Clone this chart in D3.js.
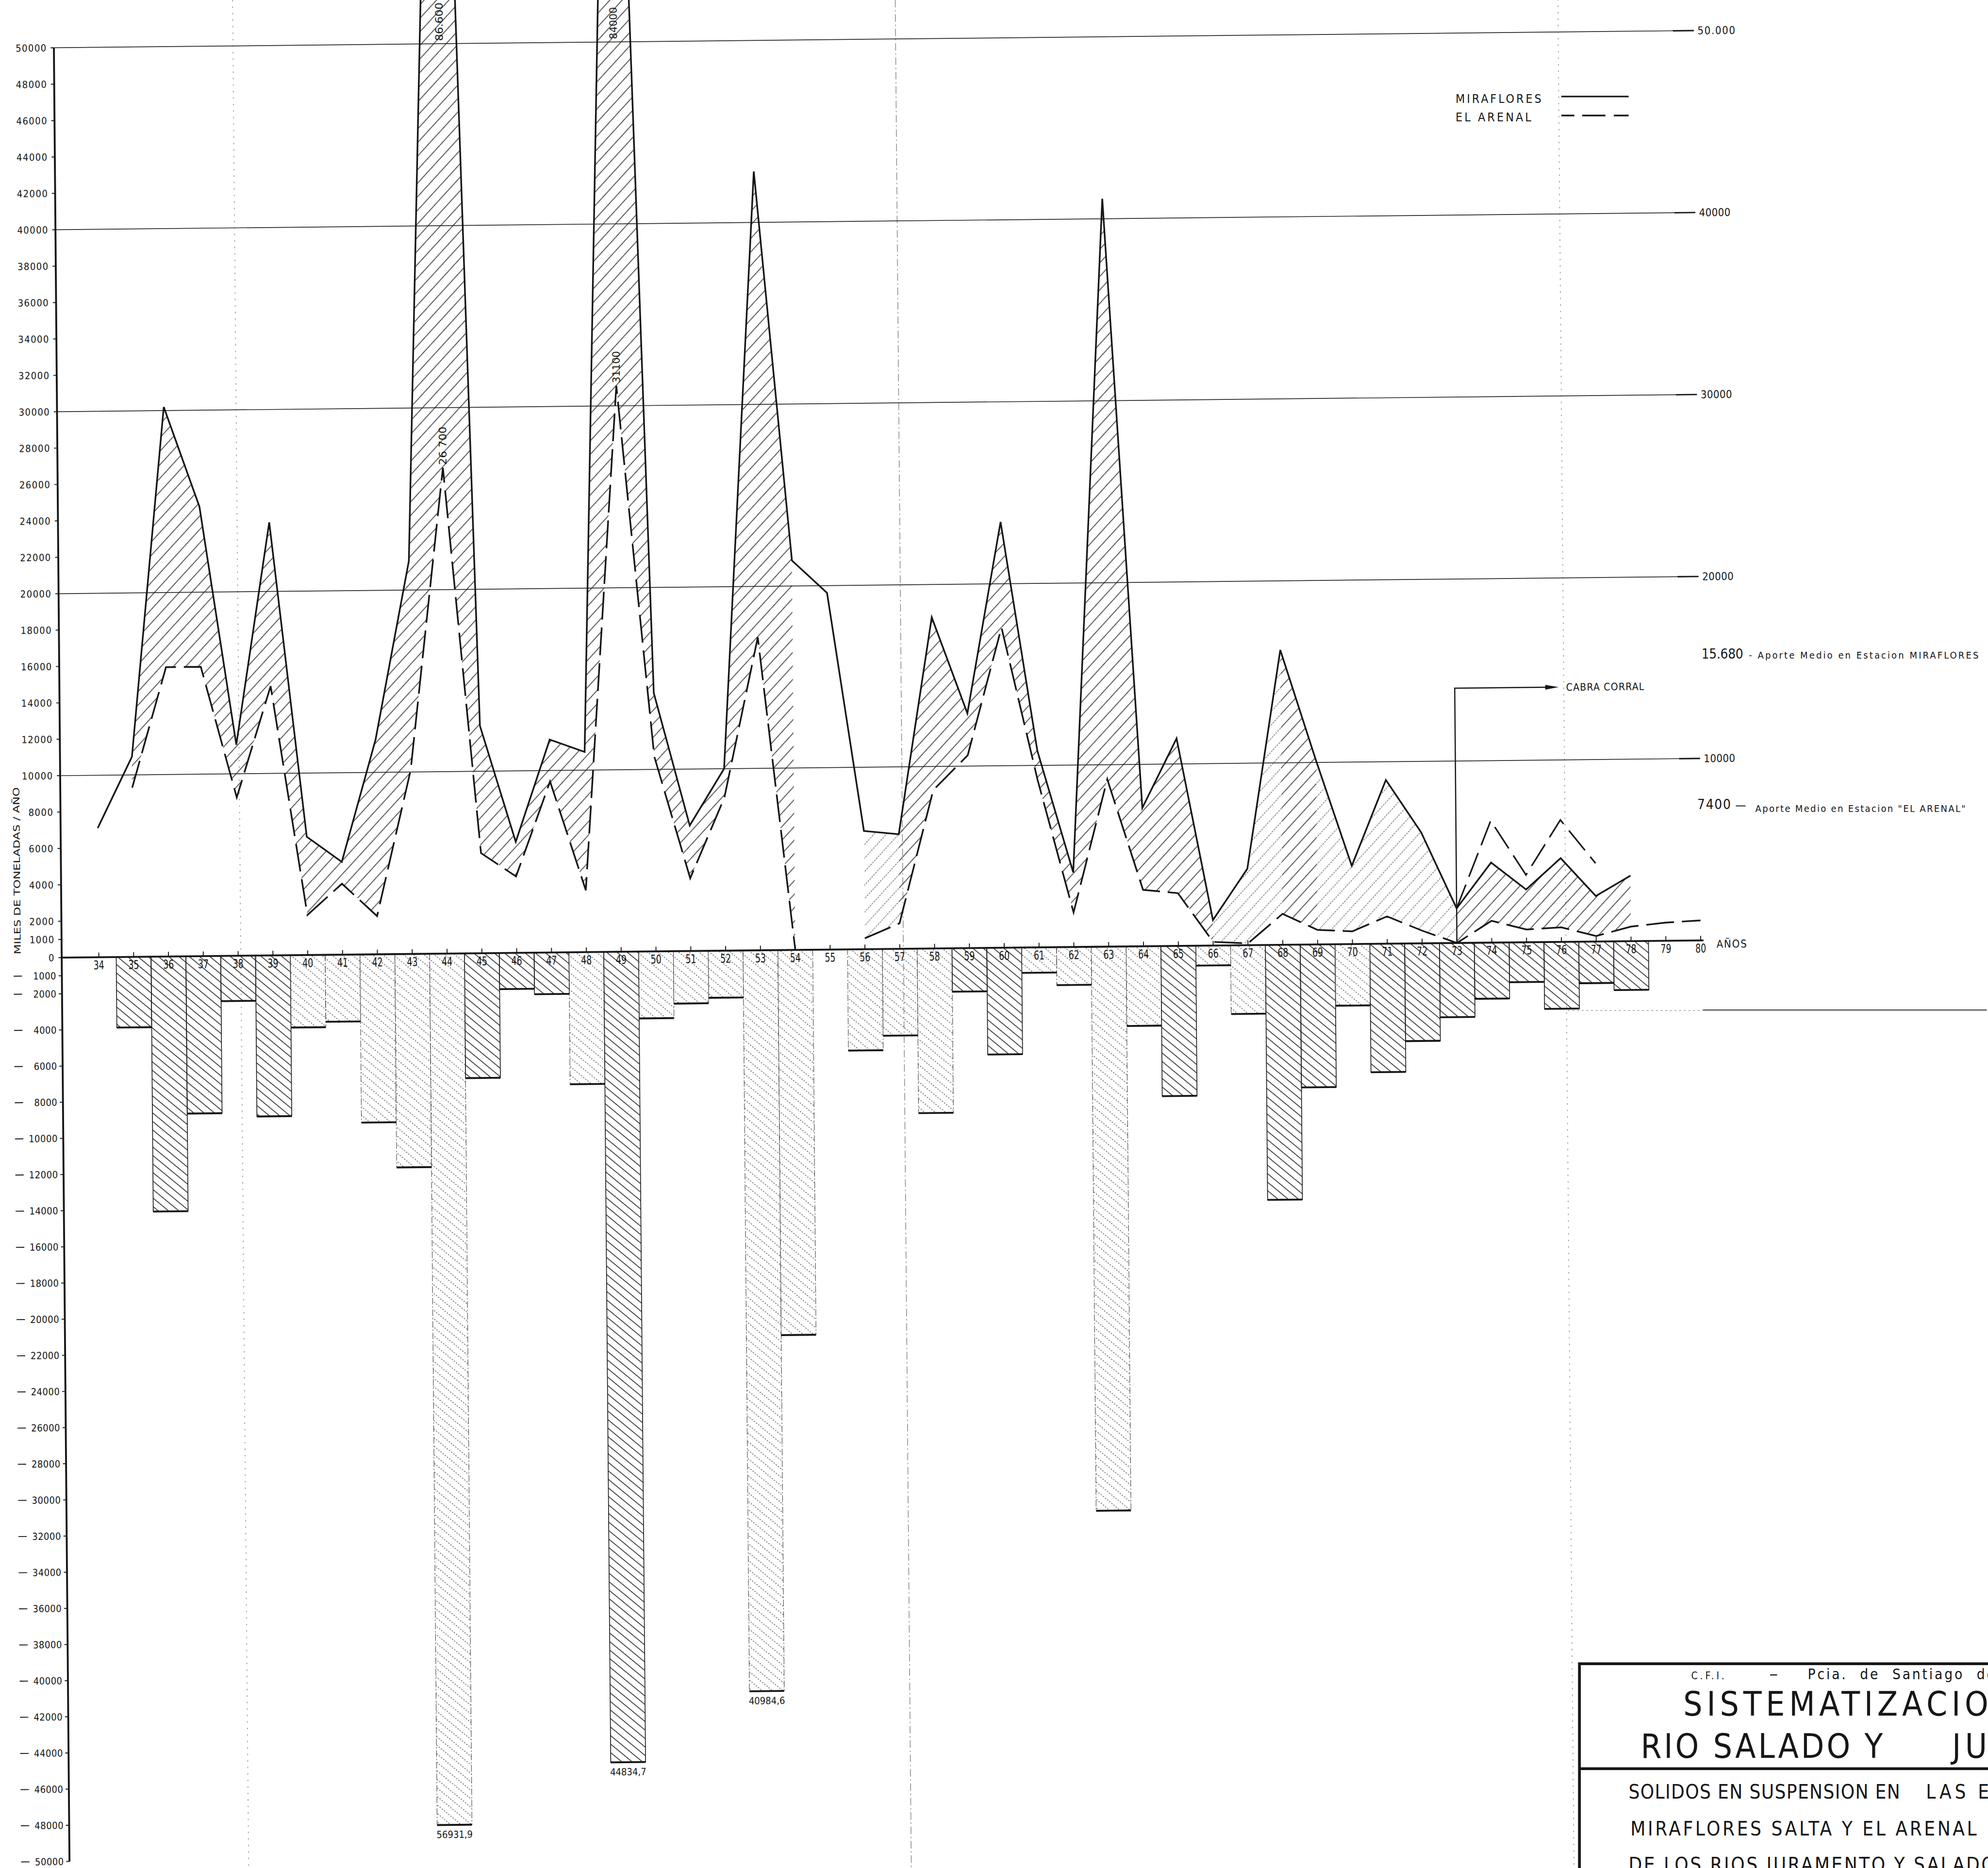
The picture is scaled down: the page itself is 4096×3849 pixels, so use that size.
<!DOCTYPE html>
<html>
<head>
<meta charset="utf-8">
<script src="https://cdn.jsdelivr.net/npm/d3@7"></script>
<style>
  html, body { margin: 0; padding: 0; background: #fff; }
  svg { display: block; }
  text { font-family: "Liberation Sans Narrow", "DejaVu Sans Condensed", "Liberation Sans", sans-serif; fill: #161616; }
</style>
</head>
<body>
<svg id="chart" width="4096" height="3849"></svg>
<script>
// ---- Data: suspended solids, thousands of tonnes per year (1934-1980) ----
const years = [34,35,36,37,38,39,40,41,42,43,44,45,46,47,48,49,50,51,52,53,54,55,56,57,
               58,59,60,61,62,63,64,65,66,67,68,69,70,71,72,73,74,75,76,77,78,79,80];

// Estación Miraflores (solid line)
const miraflores = [7100,11000,30200,24700,11600,23800,6500,5100,11800,21600,86600,12500,6100,11700,
                    11000,84000,14200,6900,10000,42800,21400,19600,6500,6300,18200,12900,23400,10800,
                    4100,41100,7600,11400,1400,4200,16200,10100,4300,9000,6100,1900,4400,2900,4600,
                    2500,3600,null,null];

// Estación El Arenal (dashed line)
const elArenal = [null,9300,15900,15900,8700,14800,2200,3900,2100,10100,26700,5500,4200,9400,
                  3400,31100,10700,4000,8400,17200,0,null,600,1400,8700,10600,17600,9200,
                  1900,9200,3100,2900,200,100,1700,800,700,1500,700,0,1200,700,800,
                  300,800,1000,1100];

// Second dashed trace after Cabra Corral (1973-1977)
const arenalHighYears = [73,74,75,76,77];
const arenalHigh = [1900,6700,3700,6700,4300];

// Yearly balance between both stations (bars below zero)
const balance = [null,-3900,-14100,-8700,-2500,-8900,-4000,-3700,-9300,-11800,-56931.9,-6900,-2000,
                 -2300,-7300,-44834.7,-3700,-2900,-2600,-40984.6,-21300,null,-5600,-4800,-9100,
                 -2400,-5900,-1400,-2100,-31200,-4400,-8300,-1100,-3800,-14100,-7900,-3400,-7100,
                 -5400,-4100,-3100,-2200,-3700,-2300,-2700,null,null];
const labelledBars = [44,49,53];

// Written values on the two big peaks of each series
const mirafloresPeakLabels = [[44,"86.600"],[49,"84000"]];
const arenalPeakLabels = [[44,"26 700"],[49,"31100"]];

// Axis ticks
const posTicks = [0,1000,2000,4000,6000,8000,10000,12000,14000,16000,18000,20000,22000,24000,
                  26000,28000,30000,32000,34000,36000,38000,40000,42000,44000,46000,48000,50000];
const negTicks = [-1000,-2000,-4000,-6000,-8000,-10000,-12000,-14000,-16000,-18000,-20000,-22000,
                  -24000,-26000,-28000,-30000,-32000,-34000,-36000,-38000,-40000,-42000,-44000,
                  -46000,-48000,-50000];
const gridValues = [10000,20000,30000,40000,50000];
const gridLabels = ["10000","20000","30000","40000","50.000"];

// Mean yearly contributions
const meanMiraflores = "15.680";
const meanArenal = "7400";

// ---- Layout (drawn at sheet size, then scaled to the window) ----
const W = 4282, H = 4024, K = 0.956;
const ORIGIN = [133, 2064];          // axis corner on the sheet
const SKEW_X = 0.0086, SKEW_Y = -0.0105; // the sheet is slightly out of square
const BAR_FLOOR = -48200;            // bars deeper than this are cut at the bottom of the sheet
const LIGHT_BARS = new Set([40,41,42,43,44,48,50,51,52,53,54,56,57,58,61,62,63,64,66,67,70]);
const LIGHT_AREA = new Set([56,66,67,69,70,71,72]);
const INK = "#161616";

const svg = d3.select("#chart");
const defs = svg.append("defs");

function hatch(id, angle, gap, color, width, dash) {
  const p = defs.append("pattern").attr("id", id)
    .attr("patternUnits", "userSpaceOnUse")
    .attr("width", gap).attr("height", 18)
    .attr("patternTransform", `rotate(${angle})`);
  p.append("line").attr("x1", gap / 2).attr("y1", 0).attr("x2", gap / 2).attr("y2", 18)
    .attr("stroke", color).attr("stroke-width", width)
    .attr("stroke-dasharray", dash || null);
}
hatch("barDark", -50, 14.1, "#262626", 1.7);
hatch("barLight", -50, 14.1, "#555", 1.5, "3 3");
hatch("areaDark", 43, 19.7, "#262626", 1.6);
hatch("areaLight", 43, 19.7, "#666", 1.4, "4 2");

const root = svg.append("g").attr("transform", `scale(${K})`);
root.append("rect").attr("width", W).attr("height", H).attr("fill", "#fff");

const plot = root.append("g")
  .attr("transform", `translate(${ORIGIN[0]},${ORIGIN[1]}) matrix(1,${SKEW_Y},${SKEW_X},1,0,0)`);

const x = d3.scaleLinear().domain([34, 80]).range([80, 80 + 46 * 75.05]);
const y = d3.scaleLinear().domain([-50000, 0, 50000]).range([1948, 0, -1961]);
const colW = 75.05;
const xEnd = x(80) + 2;

// paper creases
[[386, "3 11"], [1814, "16 6 3 6"], [3242, "3 11"]].forEach(([fx, dash]) => {
  plot.append("line").attr("x1", fx).attr("x2", fx).attr("y1", -2200).attr("y2", 2100)
    .attr("stroke", "#8a8a8a").attr("stroke-width", 1.6).attr("stroke-dasharray", dash);
});

// horizontal grid with right-hand values
const grid = plot.append("g");
gridValues.forEach((v, i) => {
  grid.append("line").attr("x1", 0).attr("x2", xEnd).attr("y1", y(v)).attr("y2", y(v))
    .attr("stroke", "#2a2a2a").attr("stroke-width", 1.8);
  grid.append("line").attr("x1", xEnd - 45).attr("x2", xEnd).attr("y1", y(v)).attr("y2", y(v))
    .attr("stroke", INK).attr("stroke-width", 3);
  grid.append("text").attr("x", xEnd + 8).attr("y", y(v)).attr("dy", "0.35em")
    .attr("font-size", 23).attr("textLength", gridLabels[i].length * 13.5)
    .text(gridLabels[i]);
});

// hatched band between the two stations
const areaSegs = [];
for (let i = 0; i < years.length - 1; i++) {
  const m0 = miraflores[i], m1 = miraflores[i + 1], a0 = elArenal[i], a1 = elArenal[i + 1];
  if ([m0, m1, a0, a1].some(v => v == null)) continue;
  areaSegs.push({ yr: years[i], pts: [[x(years[i]), y(m0)], [x(years[i + 1]), y(m1)],
                                      [x(years[i + 1]), y(a1)], [x(years[i]), y(a0)]] });
}
plot.append("g").selectAll("path").data(areaSegs).join("path")
  .attr("d", d => "M" + d.pts.join("L") + "Z")
  .attr("fill", d => LIGHT_AREA.has(d.yr) ? "url(#areaLight)" : "url(#areaDark)")
  .attr("stroke", "none");

// balance bars
const bars = years.map((yr, i) => ({ yr, v: balance[i] })).filter(d => d.v != null);
const barG = plot.append("g");
barG.selectAll("rect").data(bars).join("rect")
  .attr("x", d => x(d.yr) - colW / 2).attr("width", colW)
  .attr("y", y(0)).attr("height", d => y(Math.max(d.v, BAR_FLOOR)) - y(0))
  .attr("fill", d => LIGHT_BARS.has(d.yr) ? "url(#barLight)" : "url(#barDark)")
  .attr("stroke", d => LIGHT_BARS.has(d.yr) ? "#555" : "#222")
  .attr("stroke-width", d => LIGHT_BARS.has(d.yr) ? 1.3 : 1.8)
  .attr("stroke-dasharray", d => LIGHT_BARS.has(d.yr) ? "14 4 3 4" : null);
barG.selectAll("line.bottom").data(bars).join("line").attr("class", "bottom")
  .attr("x1", d => x(d.yr) - colW / 2).attr("x2", d => x(d.yr) + colW / 2)
  .attr("y1", d => y(Math.max(d.v, BAR_FLOOR))).attr("y2", d => y(Math.max(d.v, BAR_FLOOR)))
  .attr("stroke", INK).attr("stroke-width", 4);
barG.selectAll("text").data(bars.filter(d => labelledBars.includes(d.yr))).join("text")
  .attr("x", d => x(d.yr)).attr("y", d => y(Math.max(d.v, BAR_FLOOR)) + 28)
  .attr("text-anchor", "middle").attr("font-size", 21)
  .text(d => String(Math.abs(d.v)).replace(".", ","));

// x axis
plot.append("line").attr("x1", 0).attr("x2", x(80) + 6).attr("y1", 0).attr("y2", 0)
  .attr("stroke", INK).attr("stroke-width", 4);
plot.append("g").selectAll("line").data(years).join("line")
  .attr("x1", d => x(d)).attr("x2", d => x(d)).attr("y1", 0).attr("y2", -10)
  .attr("stroke", INK).attr("stroke-width", 2);
plot.append("g").selectAll("text").data(years).join("text")
  .attr("x", d => x(d)).attr("y", 26).attr("text-anchor", "middle")
  .attr("font-size", 26).attr("textLength", 23).attr("lengthAdjust", "spacingAndGlyphs")
  .text(d => d);
plot.append("text").attr("x", x(80) + 34).attr("y", 16).attr("font-size", 23)
  .attr("letter-spacing", 2).text("AÑOS");

// y axis
plot.append("line").attr("x1", 0).attr("x2", 0).attr("y1", y(50000)).attr("y2", y(-50000))
  .attr("stroke", INK).attr("stroke-width", 4);
const yAx = plot.append("g");
yAx.selectAll("line.pt").data(posTicks.concat(negTicks)).join("line").attr("class", "pt")
  .attr("x1", -7).attr("x2", 0).attr("y1", d => y(d)).attr("y2", d => y(d))
  .attr("stroke", INK).attr("stroke-width", 2);
yAx.selectAll("text").data(posTicks.concat(negTicks)).join("text")
  .attr("x", d => d < 0 ? -12 : -15).attr("y", d => y(d)).attr("dy", "0.36em").attr("text-anchor", "end")
  .attr("font-size", 21).attr("letter-spacing", d => d < 0 ? 0.5 : 1.5)
  .text(d => String(Math.abs(d)));
yAx.selectAll("line.minus").data(negTicks).join("line").attr("class", "minus")
  .attr("x1", -104).attr("x2", -86).attr("y1", d => y(d)).attr("y2", d => y(d))
  .attr("stroke", INK).attr("stroke-width", 2);
plot.append("text")
  .attr("transform", `translate(-95,${y(4800)}) rotate(-90)`)
  .attr("text-anchor", "middle").attr("dy", "0.35em")
  .attr("font-size", 19).attr("textLength", 360).attr("lengthAdjust", "spacingAndGlyphs")
  .text("MILES DE TONELADAS / AÑO");

// station lines
const line = d3.line().defined(d => d[1] != null).x(d => x(d[0])).y(d => y(d[1]));
plot.append("path").datum(years.map((yr, i) => [yr, miraflores[i]]))
  .attr("d", line).attr("fill", "none").attr("stroke", INK).attr("stroke-width", 3.6)
  .attr("stroke-linejoin", "miter");
plot.append("path").datum(years.map((yr, i) => [yr, elArenal[i]]))
  .attr("d", line).attr("fill", "none").attr("stroke", INK).attr("stroke-width", 3.6)
  .attr("stroke-dasharray", "60 17");
plot.append("path").datum(arenalHighYears.map((yr, i) => [yr, arenalHigh[i]]))
  .attr("d", line).attr("fill", "none").attr("stroke", INK).attr("stroke-width", 3.3)
  .attr("stroke-dasharray", "55 18");

// written peak values (vertical)
function peakText(list, series) {
  plot.append("g").selectAll("text").data(list).join("text")
    .attr("transform", d => {
      const v = series[years.indexOf(d[0])];
      return `translate(${x(d[0])},${Math.max(y(v), y(50000)) - 6}) rotate(-90)`;
    })
    .attr("dy", "0.35em").attr("font-size", 22)
    .attr("textLength", d => d[1].length * 13.8).attr("lengthAdjust", "spacingAndGlyphs")
    .text(d => d[1]);
}
peakText(mirafloresPeakLabels, miraflores);
peakText(arenalPeakLabels, elArenal);

// Cabra Corral marker
const ccx = x(73), ccy = y(14000);
plot.append("path").attr("d", `M${ccx},0V${ccy}H${ccx + 200}`)
  .attr("fill", "none").attr("stroke", INK).attr("stroke-width", 2.6);
plot.append("path").attr("d", `M${ccx + 195},${ccy - 5}L${ccx + 224},${ccy}L${ccx + 195},${ccy + 5}Z`)
  .attr("fill", INK);
plot.append("text").attr("x", ccx + 240).attr("y", ccy + 8).attr("font-size", 22)
  .attr("textLength", 168).text("CABRA CORRAL");

// ---- sheet annotations ----
// legend
root.append("text").attr("x", 3137).attr("y", 222).attr("font-size", 26)
  .attr("textLength", 185).text("MIRAFLORES");
root.append("line").attr("x1", 3365).attr("x2", 3510).attr("y1", 208).attr("y2", 208)
  .attr("stroke", INK).attr("stroke-width", 3.6);
root.append("text").attr("x", 3137).attr("y", 262).attr("font-size", 26)
  .attr("textLength", 163).text("EL ARENAL");
root.append("line").attr("x1", 3365).attr("x2", 3510).attr("y1", 249).attr("y2", 249)
  .attr("stroke", INK).attr("stroke-width", 3.6).attr("stroke-dasharray", "28 17 50 18 35");

// mean contributions
root.append("text").attr("x", 3667).attr("y", 1419).attr("font-size", 29)
  .attr("textLength", 90).text(meanMiraflores);
root.append("text").attr("x", 3769).attr("y", 1419).attr("font-size", 21)
  .attr("textLength", 495).text("- Aporte Medio en Estacion MIRAFLORES");
root.append("text").attr("x", 3658).attr("y", 1744).attr("font-size", 29)
  .attr("textLength", 72).text(meanArenal);
root.append("line").attr("x1", 3741).attr("x2", 3762).attr("y1", 1737).attr("y2", 1737)
  .attr("stroke", INK).attr("stroke-width", 2);
root.append("text").attr("x", 3783).attr("y", 1750).attr("font-size", 21)
  .attr("textLength", 453).text("Aporte Medio en Estacion \"EL ARENAL\"");

// crease across the right margin
root.append("line").attr("x1", 3379).attr("x2", 3670).attr("y1", 2178).attr("y2", 2178)
  .attr("stroke", "#999").attr("stroke-width", 1.5).attr("stroke-dasharray", "4 6");
root.append("line").attr("x1", 3670).attr("x2", W).attr("y1", 2177).attr("y2", 2177)
  .attr("stroke", "#444").attr("stroke-width", 2.4);

// title block
const tb = root.append("g");
tb.append("path").attr("d", `M${W + 10},3586H3404V${H + 10}`).attr("fill", "none")
  .attr("stroke", INK).attr("stroke-width", 6);
tb.append("line").attr("x1", 3404).attr("x2", W + 10).attr("y1", 3812).attr("y2", 3812)
  .attr("stroke", INK).attr("stroke-width", 6);
tb.append("text").attr("x", 3645).attr("y", 3619).attr("font-size", 22)
  .attr("letter-spacing", 5).text("C.F.I.");
tb.append("line").attr("x1", 3815).attr("x2", 3830).attr("y1", 3610).attr("y2", 3610)
  .attr("stroke", INK).attr("stroke-width", 2.5);
tb.append("text").attr("x", 3896).attr("y", 3619).attr("font-size", 31)
  .attr("letter-spacing", 4).attr("word-spacing", 14).text("Pcia. de Santiago del Estero");
tb.append("text").attr("x", 3628).attr("y", 3698).attr("font-size", 72)
  .attr("textLength", 715).text("SISTEMATIZACION");
tb.append("text").attr("x", 3536).attr("y", 3789).attr("font-size", 72)
  .attr("textLength", 522).text("RIO SALADO Y");
tb.append("text").attr("x", 4207).attr("y", 3789).attr("font-size", 72)
  .attr("letter-spacing", 9).text("JURAMENTO");
tb.append("text").attr("x", 3510).attr("y", 3877).attr("font-size", 42)
  .attr("textLength", 585).text("SOLIDOS EN SUSPENSION EN");
tb.append("text").attr("x", 4151).attr("y", 3877).attr("font-size", 42)
  .attr("letter-spacing", 7).text("LAS ESTACIONES");
tb.append("text").attr("x", 3514).attr("y", 3956).attr("font-size", 42)
  .attr("textLength", 746).text("MIRAFLORES SALTA Y EL ARENAL");
tb.append("text").attr("x", 3510).attr("y", 4034).attr("font-size", 42)
  .attr("textLength", 790).text("DE LOS RIOS JURAMENTO Y SALADO");
</script>
</body>
</html>
